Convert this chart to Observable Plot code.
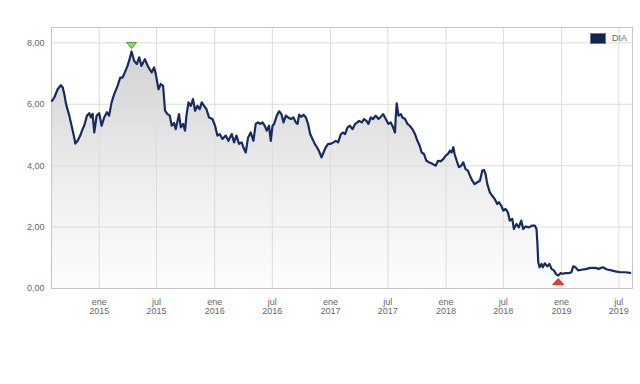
<!DOCTYPE html>
<html>
<head>
<meta charset="utf-8">
<script src="https://cdn.jsdelivr.net/npm/d3@7"></script>
<script src="https://cdn.jsdelivr.net/npm/@observablehq/plot@0.6"></script>
<style>
  body { margin: 0; background: #fff; font-family: "Liberation Sans", Arial, sans-serif; }
  #wrap { position: relative; width: 640px; height: 384px; }
  .legend { position: absolute; left: 590px; top: 33px; display: flex; align-items: center; font-size: 9px; color: #666; line-height: 11px; }
  .legend .sw { width: 14px; height: 9px; background: #102552; border: 1px solid #6b7894; margin-right: 6px; }
</style>
</head>
<body>
<div id="wrap"></div>
<script>
// Series name
const seriesName = "DIA";

// Dates as decimal years
const decYears = [
  2014.591, 2014.611, 2014.640, 2014.669, 2014.684, 2014.698, 2014.712, 2014.741, 2014.761, 2014.784,
  2014.793, 2014.813, 2014.836, 2014.857, 2014.870, 2014.894, 2014.914, 2014.928, 2014.943, 2014.957,
  2014.978, 2015.000, 2015.021, 2015.043, 2015.067, 2015.086, 2015.107, 2015.130, 2015.159, 2015.182,
  2015.202, 2015.222, 2015.245, 2015.263, 2015.280, 2015.303, 2015.326, 2015.346, 2015.366, 2015.395,
  2015.424, 2015.455, 2015.475, 2015.490, 2015.513, 2015.533, 2015.553, 2015.570, 2015.591, 2015.611,
  2015.628, 2015.648, 2015.663, 2015.691, 2015.706, 2015.726, 2015.743, 2015.755, 2015.773, 2015.793,
  2015.812, 2015.830, 2015.850, 2015.870, 2015.888, 2015.908, 2015.928, 2015.951, 2015.980, 2016.003,
  2016.023, 2016.043, 2016.067, 2016.095, 2016.118, 2016.147, 2016.167, 2016.188, 2016.210, 2016.233,
  2016.253, 2016.268, 2016.288, 2016.311, 2016.334, 2016.354, 2016.374, 2016.392, 2016.412, 2016.432,
  2016.449, 2016.469, 2016.484, 2016.499, 2016.513, 2016.536, 2016.556, 2016.576, 2016.594, 2016.614,
  2016.634, 2016.657, 2016.680, 2016.700, 2016.715, 2016.729, 2016.749, 2016.767, 2016.787, 2016.806,
  2016.824, 2016.844, 2016.864, 2016.882, 2016.901, 2016.922, 2016.939, 2016.959, 2016.979, 2017.002,
  2017.026, 2017.046, 2017.066, 2017.089, 2017.109, 2017.126, 2017.147, 2017.167, 2017.190, 2017.213,
  2017.233, 2017.247, 2017.271, 2017.290, 2017.311, 2017.328, 2017.348, 2017.368, 2017.391, 2017.415,
  2017.435, 2017.455, 2017.478, 2017.501, 2017.521, 2017.541, 2017.558, 2017.564, 2017.573, 2017.588,
  2017.608, 2017.622, 2017.645, 2017.666, 2017.685, 2017.709, 2017.731, 2017.752, 2017.772, 2017.789,
  2017.809, 2017.830, 2017.852, 2017.882, 2017.910, 2017.930, 2017.953, 2017.977, 2017.997, 2018.016,
  2018.034, 2018.048, 2018.063, 2018.074, 2018.092, 2018.111, 2018.132, 2018.149, 2018.169, 2018.189,
  2018.207, 2018.227, 2018.247, 2018.271, 2018.293, 2018.314, 2018.328, 2018.342, 2018.357, 2018.379,
  2018.400, 2018.420, 2018.443, 2018.457, 2018.478, 2018.495, 2018.515, 2018.535, 2018.552, 2018.573,
  2018.587, 2018.610, 2018.630, 2018.651, 2018.668, 2018.688, 2018.717, 2018.746, 2018.768, 2018.783,
  2018.791, 2018.798, 2018.809, 2018.826, 2018.838, 2018.855, 2018.876, 2018.895, 2018.913, 2018.933,
  2018.954, 2018.971, 2018.991, 2019.010, 2019.034, 2019.062, 2019.086, 2019.100, 2019.120, 2019.143,
  2019.172, 2019.207, 2019.250, 2019.293, 2019.321, 2019.356, 2019.394, 2019.431, 2019.465, 2019.508,
  2019.550, 2019.594
];

// Values
const values = [
  6.11, 6.22, 6.49, 6.62, 6.55, 6.33, 6.02, 5.63, 5.30, 4.92,
  4.72, 4.81, 4.98, 5.20, 5.30, 5.63, 5.71, 5.57, 5.69, 5.08,
  5.63, 5.71, 5.30, 5.57, 5.74, 5.63, 6.06, 6.33, 6.60, 6.87,
  6.87, 7.04, 7.25, 7.47, 7.72, 7.41, 7.31, 7.53, 7.25, 7.47,
  7.22, 7.04, 7.20, 6.98, 6.49, 6.66, 6.60, 5.79, 5.68, 5.63,
  5.30, 5.39, 5.19, 5.68, 5.25, 5.36, 5.14, 5.63, 6.06, 5.95,
  6.17, 5.79, 5.95, 5.84, 6.06, 5.95, 5.84, 5.57, 5.52, 5.30,
  4.98, 5.03, 4.87, 4.98, 4.81, 5.03, 4.76, 4.98, 4.71, 4.76,
  4.54, 4.43, 4.92, 5.08, 4.81, 5.36, 5.41, 5.36, 5.41, 5.30,
  5.14, 5.30, 4.81, 5.30, 5.36, 5.63, 5.77, 5.68, 5.41, 5.63,
  5.57, 5.52, 5.57, 5.41, 5.36, 5.66, 5.59, 5.66, 5.57, 5.36,
  5.03, 4.87, 4.71, 4.60, 4.47, 4.27, 4.43, 4.60, 4.71, 4.71,
  4.76, 4.81, 4.76, 5.03, 5.08, 5.03, 5.25, 5.30, 5.19, 5.36,
  5.41, 5.46, 5.41, 5.52, 5.46, 5.36, 5.57, 5.52, 5.63, 5.52,
  5.59, 5.68, 5.52, 5.36, 5.41, 5.25, 5.08, 5.57, 6.03, 5.63,
  5.68, 5.57, 5.52, 5.36, 5.30, 5.19, 5.03, 4.81, 4.65, 4.43,
  4.38, 4.16, 4.11, 4.06, 4.00, 4.16, 4.14, 4.22, 4.33, 4.38,
  4.49, 4.43, 4.60, 4.38, 4.16, 3.95, 4.00, 4.11, 3.89, 3.84,
  3.67, 3.51, 3.40, 3.46, 3.51, 3.84, 3.86, 3.73, 3.40, 3.13,
  3.02, 2.92, 2.75, 2.81, 2.70, 2.54, 2.59, 2.48, 2.21, 2.27,
  1.94, 2.10, 1.99, 2.21, 1.94, 2.02, 1.99, 2.05, 2.05, 1.94,
  1.45, 0.86, 0.69, 0.80, 0.69, 0.82, 0.72, 0.80, 0.64, 0.59,
  0.46, 0.42, 0.50, 0.48, 0.50, 0.50, 0.53, 0.72, 0.69, 0.59,
  0.61, 0.63, 0.67, 0.67, 0.64, 0.69, 0.62, 0.59, 0.56, 0.53,
  0.53, 0.51
];

// Axis ticks and labels
const xTickDates = ["2015-01-01", "2015-07-01", "2016-01-01", "2016-07-01", "2017-01-01",
                    "2017-07-01", "2018-01-01", "2018-07-01", "2019-01-01", "2019-07-01"];
const monthAbbr = ["ene", "feb", "mar", "abr", "may", "jun", "jul", "ago", "sep", "oct", "nov", "dic"];
const yTicks = [0, 2, 4, 6, 8];
const xDomainDec = [2014.587, 2019.614];
const yDomain = [0, 8.5];

function toDate(t) {
  const y = Math.floor(t);
  const a = Date.UTC(y, 0, 1), b = Date.UTC(y + 1, 0, 1);
  return new Date(a + (t - y) * (b - a));
}

const data = decYears.map((t, i) => ({date: toDate(t), value: values[i]}));
const maxPt = data.reduce((a, b) => (b.value > a.value ? b : a));
const minPt = data.reduce((a, b) => (b.value < a.value ? b : a));
const tickDates = xTickDates.map(s => new Date(s + "T00:00:00Z"));

const triDown = {draw(ctx) { ctx.moveTo(-5, -3); ctx.lineTo(5, -3); ctx.lineTo(0, 3); ctx.closePath(); }};
const triUp = {draw(ctx) { ctx.moveTo(-5.5, 3); ctx.lineTo(5.5, 3); ctx.lineTo(0, -3); ctx.closePath(); }};

const chart = Plot.plot({
  width: 640,
  height: 384,
  marginTop: 27,
  marginRight: 8,
  marginBottom: 96,
  marginLeft: 51,
  style: {fontFamily: "'Liberation Sans', Arial, sans-serif", fontSize: "9px", color: "#666", background: "#fff"},
  x: {type: "utc", domain: xDomainDec.map(toDate)},
  y: {domain: yDomain},
  marks: [
    Plot.areaY(data, {x: "date", y: "value", fill: "url(#areaGrad)"}),
    Plot.gridX(tickDates, {stroke: "#dcdcdc", strokeOpacity: 1}),
    Plot.gridY(yTicks, {stroke: "#dcdcdc", strokeOpacity: 1}),
    Plot.frame({stroke: "#c4c4c4"}),
    Plot.axisY(yTicks, {tickSize: 0, tickPadding: 7, tickFormat: d => d.toFixed(2).replace(".", ","), label: null, fill: "#666"}),
    Plot.axisX(tickDates, {tickSize: 0, tickPadding: 9, lineHeight: 1.1, label: null, fill: "#666",
      tickFormat: d => monthAbbr[d.getUTCMonth()] + "\n" + d.getUTCFullYear()}),
    Plot.line(data, {x: "date", y: "value", stroke: "#172c5c", strokeWidth: 2.2, strokeLinejoin: "round"}),
    Plot.dot([maxPt], {x: "date", y: "value", symbol: triDown, dy: -6, fill: "#8fd47a", stroke: "#3f9d2d", strokeWidth: 1}),
    Plot.dot([minPt], {x: "date", y: "value", symbol: triUp, dy: 6, fill: "#e0403c", stroke: "#d23430", strokeWidth: 1})
  ]
});

const defs = d3.select(chart).insert("defs", ":first-child");
const grad = defs.append("linearGradient").attr("id", "areaGrad")
  .attr("x1", 0).attr("y1", 0).attr("x2", 0).attr("y2", 1);
grad.append("stop").attr("offset", "0%").attr("stop-color", "#d2d2d2");
grad.append("stop").attr("offset", "55%").attr("stop-color", "#eeeeee");
grad.append("stop").attr("offset", "100%").attr("stop-color", "#fdfdfd");

const wrap = document.getElementById("wrap");
wrap.appendChild(chart);
const legend = document.createElement("div");
legend.className = "legend";
legend.innerHTML = '<div class="sw"></div><span></span>';
legend.querySelector("span").textContent = seriesName;
wrap.appendChild(legend);
</script>
</body>
</html>
